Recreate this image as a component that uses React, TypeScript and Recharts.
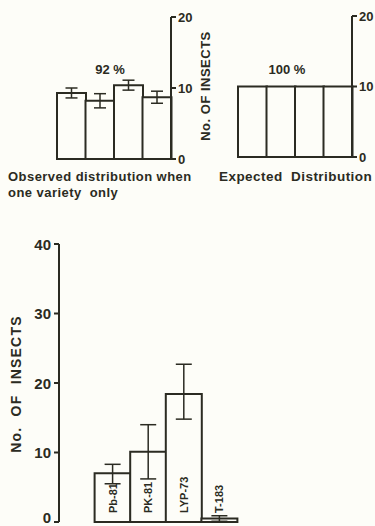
import React from "react";
import { BarChart, Bar, XAxis, YAxis, ErrorBar, LabelList } from "recharts";

const INK = "#2b2b22";
const FONT = "'Liberation Sans', Arial, sans-serif";

// Top-left: observed distribution when one variety only
const obsCats = ["Pb-81", "PK-81", "LYP-73", "T-183"];
const obsValues = [9.3, 8.2, 10.4, 8.7];
const obsErrors = [0.7, 1.0, 0.7, 0.85];

// Top-right: expected distribution
const expCats = ["Pb-81", "PK-81", "LYP-73", "T-183"];
const expValues = [10, 10, 10, 10];

const topTicks = [0, 10, 20];

// Bottom: number of insects per variety
const mainCats = ["", "Pb-81", "PK-81", "LYP-73", "T-183"];
const mainValues: (number | null)[] = [null, 7.0, 10.1, 18.4, 0.5];
const mainErrLow: (number | null)[] = [null, 1.5, 3.9, 3.6, 0.4];
const mainErrHigh: (number | null)[] = [null, 1.3, 3.9, 4.3, 0.4];
const mainTicks = [0, 10, 20, 30, 40];

const obsData = obsCats.map((name, i) => ({ name, value: obsValues[i], err: obsErrors[i] }));
const expData = expCats.map((name, i) => ({ name, value: expValues[i] }));
const mainData = mainCats.map((name, i) => ({
  name,
  value: mainValues[i],
  err: mainValues[i] == null ? null : [mainErrLow[i], mainErrHigh[i]],
}));

const tickStyle = { fill: INK, fontSize: 13, fontWeight: 700, fontFamily: FONT };

const MainTick = (props: any) => {
  const { x, y, payload } = props;
  const shift = payload.value === 0 ? -5 : 0;
  return (
    <text
      x={x}
      y={y + shift}
      textAnchor="end"
      dominantBaseline="central"
      fill={INK}
      fontSize={15}
      fontWeight={700}
      fontFamily={FONT}
    >
      {payload.value}
    </text>
  );
};

const BarLabel = (props: any) => {
  const { x, y, width, height, value } = props;
  if (!value) return null;
  const cx = x + width / 2;
  const by = y + height - 9;
  return (
    <text
      x={cx}
      y={by}
      transform={`rotate(-90 ${cx} ${by})`}
      textAnchor="start"
      dominantBaseline="central"
      fill={INK}
      fontSize={11}
      fontWeight={700}
      fontFamily={FONT}
    >
      {value}
    </text>
  );
};

export default function App() {
  return (
    <div
      style={{
        position: "absolute",
        left: 0,
        top: 0,
        width: 375,
        height: 526,
        overflow: "hidden",
        background: "#fdfdf8",
        fontFamily: FONT,
      }}
    >
      <div style={{ position: "absolute", left: 0, top: 0 }}>
        <BarChart width={200} height={170} data={obsData} margin={{ top: 17, right: 4, bottom: 11, left: 57 }} barCategoryGap={0}>
          <XAxis dataKey="name" tick={false} tickLine={false} height={0} axisLine={{ stroke: INK, strokeWidth: 2 }} />
          <YAxis
            orientation="right"
            width={25}
            domain={[0, 20]}
            ticks={topTicks}
            interval={0}
            tickSize={5}
            tickMargin={2}
            tick={tickStyle}
            axisLine={{ stroke: INK, strokeWidth: 2 }}
            tickLine={{ stroke: INK, strokeWidth: 2 }}
          />
          <Bar dataKey="value" fill="#fdfdf8" stroke={INK} strokeWidth={2} isAnimationActive={false}>
            <ErrorBar dataKey="err" width={6} stroke={INK} strokeWidth={1.5} />
          </Bar>
        </BarChart>
      </div>

      <div style={{ position: "absolute", left: 181, top: 0 }}>
        <BarChart width={194} height={170} data={expData} margin={{ top: 16, right: 3, bottom: 13, left: 57 }} barCategoryGap={0}>
          <XAxis dataKey="name" tick={false} tickLine={false} height={0} axisLine={{ stroke: INK, strokeWidth: 2 }} />
          <YAxis
            orientation="right"
            width={20}
            domain={[0, 20]}
            ticks={topTicks}
            interval={0}
            tickSize={5}
            tickMargin={2}
            tick={tickStyle}
            axisLine={{ stroke: INK, strokeWidth: 2 }}
            tickLine={{ stroke: INK, strokeWidth: 2 }}
          />
          <Bar dataKey="value" fill="#fdfdf8" stroke={INK} strokeWidth={2} isAnimationActive={false} />
        </BarChart>
      </div>

      <div style={{ position: "absolute", left: 0, top: 230 }}>
        <BarChart width={260} height={296} data={mainData} margin={{ top: 14, right: 8, bottom: 4, left: 0 }} barCategoryGap={0}>
          <XAxis
            dataKey="name"
            tick={false}
            tickLine={false}
            height={0}
            padding={{ left: 0, right: 15 }}
            axisLine={{ stroke: INK, strokeWidth: 2.5 }}
          />
          <YAxis
            width={59}
            domain={[0, 40]}
            ticks={mainTicks}
            interval={0}
            tickSize={5}
            tickMargin={3}
            tick={<MainTick />}
            axisLine={{ stroke: INK, strokeWidth: 2 }}
            tickLine={{ stroke: INK, strokeWidth: 2 }}
          />
          <Bar dataKey="value" fill="#fdfdf8" stroke={INK} strokeWidth={2} isAnimationActive={false}>
            <ErrorBar dataKey="err" width={8} stroke={INK} strokeWidth={1.5} />
            <LabelList dataKey="name" content={BarLabel} />
          </Bar>
        </BarChart>
      </div>

      <svg width={375} height={526} style={{ position: "absolute", left: 0, top: 0, pointerEvents: "none" }}>
        <g fill={INK} fontFamily={FONT} fontWeight={700}>
          <text x={110} y={74} fontSize={13} textAnchor="middle">92 %</text>
          <text x={287} y={74} fontSize={13} textAnchor="middle">100 %</text>
          <text x={205} y={86} fontSize={13} letterSpacing={0.5} textAnchor="middle" dominantBaseline="central" transform="rotate(-90 205 86)">
            No. OF INSECTS
          </text>
          <text x={8} y={181} fontSize={13} letterSpacing={0.45}>Observed distribution when</text>
          <text x={8} y={197} fontSize={13} letterSpacing={0.45} style={{ whiteSpace: "pre" }}>one variety  only</text>
          <text x={219} y={181} fontSize={13.5} letterSpacing={0.45} style={{ whiteSpace: "pre" }}>Expected  Distribution</text>
          <text x={16} y={384} fontSize={14} letterSpacing={1.2} textAnchor="middle" dominantBaseline="central" transform="rotate(-90 16 384)" style={{ whiteSpace: "pre" }}>
            No.  OF  INSECTS
          </text>
        </g>
      </svg>
    </div>
  );
}
